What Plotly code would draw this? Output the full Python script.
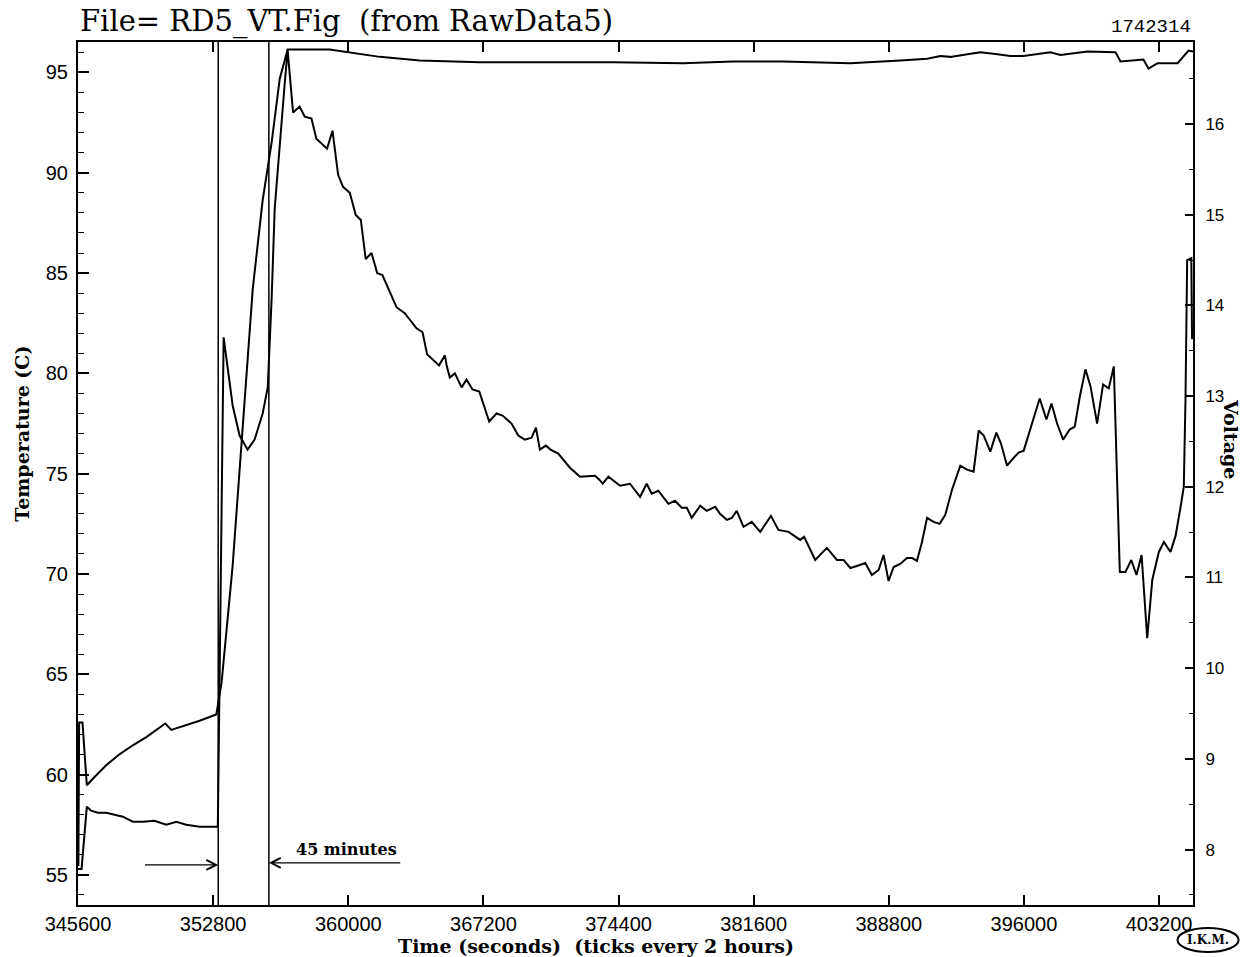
import plotly.graph_objects as go

# ---------------- data ----------------
time_temp = [345600, 345790, 346070, 346300, 346660, 347100, 347550, 347990, 348520, 349060,
             349680, 350300, 350840, 351370, 352080, 353050, 353360, 353840, 354210, 354640,
             355010, 355440, 355710, 355920, 356080, 356350, 356610, 356770, 357060, 357410,
             357680, 358040, 358300, 358870, 359160, 359460, 359720, 360080, 360400, 360670,
             360930, 361240, 361540, 361820, 362570, 363010, 363640, 363960, 364200, 364840,
             365150, 365240, 365410, 365680, 366040, 366300, 366620, 366980, 367510, 367900,
             368220, 368700, 369060, 369410, 369770, 370000, 370210, 370530, 370780, 371190,
             371810, 372350, 373150, 373380, 373560, 373860, 374480, 375010, 375550, 375900,
             376170, 376520, 377060, 377410, 377770, 378040, 378300, 378750, 379100, 379550,
             379810, 380170, 380440, 380700, 381060, 381500, 381950, 382520, 382920, 383460,
             384080, 384290, 384880, 385500, 386040, 386390, 386750, 387100, 387550, 387900,
             388260, 388520, 388790, 389060, 389410, 389770, 390040, 390300, 390570, 390840,
             391190, 391510, 391810, 392170, 392610, 392970, 393320, 393590, 393860, 394210,
             394530, 394780, 395100, 395460, 395720, 395990, 396520, 396840, 397200, 397470,
             397770, 398090, 398440, 398710, 398980, 399280, 399550, 399900, 400220, 400520,
             400790, 401110, 401410, 401720, 402000, 402270, 402570, 402840, 403190, 403460,
             403810, 404080, 404350, 404520, 404610, 404700, 404920, 404960]
temperature = [55.3, 55.3, 58.4, 58.2, 58.1, 58.1, 58.0, 57.9, 57.65, 57.65,
               57.7, 57.5, 57.65, 57.5, 57.4, 57.4, 81.8, 78.4, 76.9, 76.2,
               76.7, 78.0, 79.3, 83.8, 88.2, 91.5, 94.4, 96.1, 93.0, 93.3,
               92.8, 92.7, 91.7, 91.2, 92.1, 89.9, 89.3, 89.0, 87.9, 87.65,
               85.7, 86.0, 85.0, 84.9, 83.3, 83.0, 82.25, 82.05, 80.95, 80.4,
               80.9, 80.4, 79.8, 80.0, 79.3, 79.7, 79.2, 79.1, 77.6, 78.0,
               77.9, 77.5, 76.9, 76.7, 76.8, 77.3, 76.2, 76.4, 76.2, 76.0,
               75.3, 74.85, 74.9, 74.7, 74.5, 74.85, 74.4, 74.5, 73.85, 74.5,
               74.0, 74.15, 73.5, 73.65, 73.3, 73.3, 72.8, 73.4, 73.15, 73.35,
               73.0, 72.7, 72.8, 73.15, 72.35, 72.6, 72.1, 72.9, 72.2, 72.1,
               71.7, 71.85, 70.7, 71.3, 70.7, 70.7, 70.3, 70.4, 70.55, 69.95,
               70.2, 70.95, 69.65, 70.35, 70.5, 70.8, 70.8, 70.65, 71.6, 72.8,
               72.6, 72.5, 72.95, 74.2, 75.4, 75.2, 75.1, 77.15, 76.9, 76.1,
               77.05, 76.5, 75.4, 75.8, 76.05, 76.15, 77.7, 78.75, 77.7, 78.5,
               77.5, 76.7, 77.2, 77.35, 78.85, 80.2, 79.35, 77.5, 79.45, 79.25,
               80.35, 70.1, 70.1, 70.7, 69.95, 70.95, 66.8, 69.7, 71.1, 71.6,
               71.1, 71.9, 73.35, 74.35, 78.7, 85.65, 85.75, 81.7]

time_volt = [345620, 345660, 345840, 346070, 346480, 347100, 347810, 348520, 349240, 350250,
             350570, 351370, 352080, 352970, 353250, 353840, 354370, 354910, 355440, 355920,
             356350, 356770, 359010, 360080, 361680, 363810, 367010, 370590, 374110, 377840,
             380510, 383170, 385310, 386750, 389410, 390320, 390850, 391550, 392080, 392990,
             393680, 394590, 395280, 395970, 397410, 397950, 399390, 400880, 401150, 402370,
             402640, 403120, 404190, 404770, 405010]
voltage = [7.82, 9.40, 9.40, 8.71, 8.80, 8.93, 9.05, 9.15, 9.24, 9.39,
           9.32, 9.37, 9.42, 9.49, 9.84, 11.13, 12.60, 14.18, 15.16, 15.80,
           16.50, 16.82, 16.82, 16.79, 16.74, 16.70, 16.68, 16.68, 16.68, 16.67,
           16.69, 16.69, 16.68, 16.67, 16.70, 16.71, 16.72, 16.75, 16.74, 16.77,
           16.79, 16.77, 16.75, 16.75, 16.79, 16.76, 16.80, 16.79, 16.69, 16.71,
           16.61, 16.67, 16.67, 16.81, 16.80]

x_ticks = [345600, 352800, 360000, 367200, 374400, 381600, 388800, 396000, 403200]
temp_ticks = [55, 60, 65, 70, 75, 80, 85, 90, 95]
volt_ticks = [8, 9, 10, 11, 12, 13, 14, 15, 16]

marker_times = [353070, 355770]          # the two vertical lines (45 minutes apart)
arrow_left = (349090, 353070, 55.5)      # tail time, head time, temperature level
arrow_right = (362850, 355770, 55.6)
note_pos = (359900, 55.68)

# ---------------- figure ----------------
black = "black"
fig = go.Figure()
fig.add_trace(go.Scatter(x=time_temp, y=temperature, mode="lines",
                         line=dict(color=black, width=2), yaxis="y", showlegend=False))
fig.add_trace(go.Scatter(x=time_volt, y=voltage, mode="lines",
                         line=dict(color=black, width=2), yaxis="y2", showlegend=False))

shapes = []
for t in marker_times:
    shapes.append(dict(type="line", xref="x", yref="paper", x0=t, x1=t, y0=0, y1=1,
                       line=dict(color=black, width=1.5)))
shapes.append(dict(type="circle", xref="paper", yref="paper",
                   x0=0.9861, x1=1.0409, y0=-0.0545, y1=-0.0267,
                   line=dict(color=black, width=2)))

serif = "DejaVu Serif"
nb = "\u00a0"
annotations = [
    dict(text="File=" + nb + "RD5_VT.Fig" + nb + nb + "(from" + nb + "RawData5)",
         xref="paper", yref="paper", x=0, y=1, xanchor="left", yanchor="bottom",
         xshift=0, yshift=1, showarrow=False,
         font=dict(family=serif, size=29, color=black)),
    dict(text="1742314", xref="paper", yref="paper", x=0.962, y=1.0174,
         xanchor="center", yanchor="middle", showarrow=False,
         font=dict(family="Liberation Mono", size=19, color=black)),
    dict(text="Temperature (C)", xref="paper", yref="paper", x=0, y=0.546,
         xanchor="center", yanchor="middle", xshift=-56, textangle=-90, showarrow=False,
         font=dict(family=serif, size=19, color=black, weight="bold")),
    dict(text="Voltage", xref="paper", yref="paper", x=1, y=0.54,
         xanchor="center", yanchor="middle", xshift=38, textangle=90, showarrow=False,
         font=dict(family=serif, size=19, color=black, weight="bold")),
    dict(text="Time (seconds)" + nb + nb + "(ticks every 2 hours)",
         xref="paper", yref="paper", x=0.4645, y=0, xanchor="center", yanchor="middle",
         yshift=-41, showarrow=False,
         font=dict(family=serif, size=19, color=black, weight="bold")),
    dict(text="I.K.M.", xref="paper", yref="paper", x=1.0135, y=-0.0406,
         xanchor="center", yanchor="middle", showarrow=False,
         font=dict(family=serif, size=12, color=black, weight="bold")),
    dict(text="", x=arrow_left[1], y=arrow_left[2], ax=arrow_left[0], ay=arrow_left[2],
         xref="x", yref="y", axref="x", ayref="y", showarrow=True,
         arrowhead=5, arrowsize=1.6, arrowwidth=1.2, arrowcolor=black),
    dict(text="", x=arrow_right[1], y=arrow_right[2], ax=arrow_right[0], ay=arrow_right[2],
         xref="x", yref="y", axref="x", ayref="y", showarrow=True,
         arrowhead=5, arrowsize=1.6, arrowwidth=1.2, arrowcolor=black),
    dict(text="45 minutes", x=note_pos[0], y=note_pos[1], xref="x", yref="y",
         xanchor="center", yanchor="bottom", showarrow=False,
         font=dict(family=serif, size=16, color=black, weight="bold")),
]

axis_common = dict(showgrid=False, zeroline=False, showline=True, linecolor=black,
                   linewidth=2, ticks="inside", tickcolor=black)

fig.update_layout(
    width=1248, height=957, autosize=False,
    margin=dict(l=78, r=55, t=42, b=52),
    paper_bgcolor="white", plot_bgcolor="white",
    showlegend=False,
    xaxis=dict(range=[345600, 405010], tickvals=x_ticks,
               ticktext=[str(v) for v in x_ticks], mirror="ticks",
               ticklen=10, tickwidth=1.5, ticklabelstandoff=0,
               tickfont=dict(family="Liberation Sans", size=20, color=black),
               **axis_common),
    yaxis=dict(range=[53.5, 96.52], tickvals=temp_ticks,
               ticktext=[str(v) for v in temp_ticks],
               ticklen=11, tickwidth=1.5, ticklabelstandoff=4,
               minor=dict(ticks="inside", dtick=1, tick0=55, ticklen=6,
                          tickcolor=black, tickwidth=1.2, showgrid=False),
               tickfont=dict(family="Liberation Sans", size=20, color=black),
               **axis_common),
    yaxis2=dict(range=[7.389, 16.904], overlaying="y", side="right",
                tickvals=volt_ticks, ticktext=[str(v) for v in volt_ticks],
                ticklen=8, tickwidth=1.5, ticklabelstandoff=7,
                minor=dict(ticks="inside", dtick=0.5, tick0=8, ticklen=4,
                           tickcolor=black, tickwidth=1.2, showgrid=False),
                tickfont=dict(family="Liberation Sans", size=17, color=black),
                **axis_common),
    shapes=shapes,
    annotations=annotations,
)

fig.write_html("out.html")
